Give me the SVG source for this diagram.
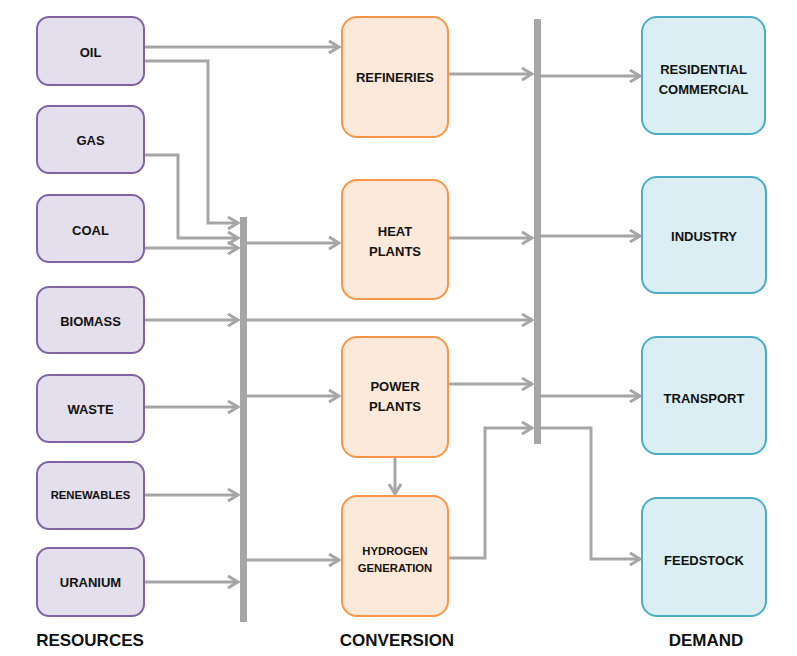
<svg xmlns="http://www.w3.org/2000/svg" width="797" height="656" viewBox="0 0 797 656">
<style>
.res{fill:#E4DFEC;stroke:#8064A2;stroke-width:2}
.conv{fill:#FDE9D9;stroke:#F79646;stroke-width:2}
.dem{fill:#DAEEF3;stroke:#4BACC6;stroke-width:2}
.t{font-family:"Liberation Sans",Arial,sans-serif;font-weight:bold;font-size:13px;fill:#111;text-anchor:middle}
.s{font-size:11.3px}
.h{font-family:"Liberation Sans",Arial,sans-serif;font-weight:bold;font-size:17px;fill:#111;text-anchor:middle}
.c{fill:none;stroke:#A6A6A6;stroke-width:3}
.a{marker-end:url(#ah)}
.bus{fill:#A6A6A6}
</style>
<defs>
<marker id="ah" markerUnits="userSpaceOnUse" viewBox="0 0 14 14" refX="12" refY="7" markerWidth="14" markerHeight="14" orient="auto">
<path d="M2,1 L12,7 L2,13" fill="none" stroke="#A6A6A6" stroke-width="3"/>
</marker>
</defs>
<g id="connectors">
<rect class="bus" x="240" y="217" width="7" height="405"/>
<rect class="bus" x="534" y="19" width="7" height="425"/>
<path class="c a" d="M145,47 H339"/>
<path class="c a" d="M145,61 H208 V223 H238"/>
<path class="c a" d="M145,155 H178 V238 H238"/>
<path class="c a" d="M145,248 H238"/>
<path class="c a" d="M145,320 H238"/>
<path class="c a" d="M145,407 H238"/>
<path class="c a" d="M145,495 H238"/>
<path class="c a" d="M145,582 H238"/>
<path class="c a" d="M247,243 H339"/>
<path class="c a" d="M247,320 H532"/>
<path class="c a" d="M247,396 H339"/>
<path class="c a" d="M247,560 H339"/>
<path class="c a" d="M448,74 H532"/>
<path class="c a" d="M448,238 H532"/>
<path class="c a" d="M448,384 H532"/>
<path class="c a" d="M395,457 V494"/>
<path class="c a" d="M448,558 H485 V428 H532"/>
<path class="c a" d="M541,76 H640"/>
<path class="c a" d="M541,236 H640"/>
<path class="c a" d="M541,396 H640"/>
<path class="c a" d="M541,428 H591 V559 H640"/>
</g>
<g id="oil"><rect class="res" x="37" y="17" width="107" height="68" rx="12"/><text class="t" x="90.5" y="57">OIL</text></g>
<g id="gas"><rect class="res" x="37" y="106" width="107" height="67" rx="12"/><text class="t" x="90.5" y="145">GAS</text></g>
<g id="coal"><rect class="res" x="37" y="195" width="107" height="67" rx="12"/><text class="t" x="90.5" y="235">COAL</text></g>
<g id="biomass"><rect class="res" x="37" y="287" width="107" height="66" rx="12"/><text class="t" x="90.5" y="326">BIOMASS</text></g>
<g id="waste"><rect class="res" x="37" y="375" width="107" height="67" rx="12"/><text class="t" x="90.5" y="414">WASTE</text></g>
<g id="renewables"><rect class="res" x="37" y="462" width="107" height="67" rx="12"/><text class="t s" x="90.5" y="499">RENEWABLES</text></g>
<g id="uranium"><rect class="res" x="37" y="548" width="107" height="68" rx="12"/><text class="t" x="90.5" y="587">URANIUM</text></g>
<g id="refineries"><rect class="conv" x="342" y="17" width="106" height="120" rx="15"/><text class="t" x="395" y="82">REFINERIES</text></g>
<g id="heat"><rect class="conv" x="342" y="180" width="106" height="119" rx="15"/><text class="t" x="395" y="236">HEAT</text><text class="t" x="395" y="256">PLANTS</text></g>
<g id="power"><rect class="conv" x="342" y="337" width="106" height="120" rx="15"/><text class="t" x="395" y="391">POWER</text><text class="t" x="395" y="411">PLANTS</text></g>
<g id="hydrogen"><rect class="conv" x="342" y="496" width="106" height="120" rx="15"/><text class="t s" x="395" y="555">HYDROGEN</text><text class="t s" x="395" y="572">GENERATION</text></g>
<g id="residential"><rect class="dem" x="642" y="17" width="123" height="117" rx="15"/><text class="t" x="703.5" y="74">RESIDENTIAL</text><text class="t" x="703.5" y="94">COMMERCIAL</text></g>
<g id="industry"><rect class="dem" x="642" y="177" width="124" height="116" rx="15"/><text class="t" x="704" y="241">INDUSTRY</text></g>
<g id="transport"><rect class="dem" x="642" y="337" width="124" height="117" rx="15"/><text class="t" x="704" y="403">TRANSPORT</text></g>
<g id="feedstock"><rect class="dem" x="642" y="498" width="124" height="118" rx="15"/><text class="t" x="704" y="565">FEEDSTOCK</text></g>
<g id="labels">
<text class="h" x="90" y="646">RESOURCES</text>
<text class="h" x="397" y="646">CONVERSION</text>
<text class="h" x="706" y="646">DEMAND</text>
</g>
</svg>
